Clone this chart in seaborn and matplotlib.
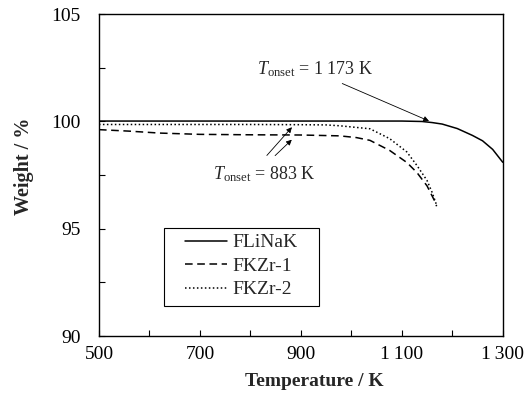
import matplotlib
matplotlib.use("Agg")
import matplotlib.pyplot as plt
import seaborn as sns
import pandas as pd
from matplotlib.patches import Rectangle
from matplotlib.ticker import MultipleLocator, FixedLocator, FixedFormatter

# ---- data ----
temp_flinak = [500, 600, 700, 800, 900, 1000, 1100, 1140, 1160, 1180, 1210, 1240, 1260, 1280, 1300]
w_flinak = [100.02, 100.02, 100.02, 100.02, 100.02, 100.02, 100.02, 100.0, 99.95, 99.88, 99.67, 99.35, 99.1, 98.7, 98.1]

temp_fkzr1 = [500, 560, 620, 700, 800, 900, 977, 1010, 1037, 1076, 1110, 1130, 1150, 1165, 1169]
w_fkzr1 = [99.62, 99.55, 99.46, 99.4, 99.38, 99.37, 99.33, 99.25, 99.12, 98.65, 98.09, 97.62, 97.0, 96.3, 96.05]

temp_fkzr2 = [500, 600, 700, 800, 900, 950, 977, 1037, 1076, 1110, 1130, 1150, 1160, 1169]
w_fkzr2 = [99.86, 99.86, 99.86, 99.86, 99.85, 99.84, 99.8, 99.66, 99.2, 98.58, 97.95, 97.25, 96.7, 96.1]

series_names = ["FLiNaK", "FKZr-1", "FKZr-2"]
x_ticks = [500, 700, 900, 1100, 1300]
x_tick_labels = ["500", "700", "900", "1\u2009100", "1\u2009300"]
y_ticks = [90, 95, 100, 105]

df = pd.concat([
    pd.DataFrame({"T": temp_flinak, "W": w_flinak, "s": series_names[0]}),
    pd.DataFrame({"T": temp_fkzr1, "W": w_fkzr1, "s": series_names[1]}),
    pd.DataFrame({"T": temp_fkzr2, "W": w_fkzr2, "s": series_names[2]}),
])

sns.set_style("ticks")
plt.rcParams["font.family"] = ["Liberation Serif", "DejaVu Serif"]
plt.rcParams["mathtext.fontset"] = "custom"
plt.rcParams["mathtext.rm"] = "Liberation Serif"
plt.rcParams["mathtext.it"] = "Liberation Serif:italic"

fig = plt.figure(figsize=(5.32, 3.94), dpi=100)
ax = fig.add_axes([0.186, 0.147, 0.759, 0.817])

styles = {"FLiNaK": "-", "FKZr-1": (0, (5, 3)), "FKZr-2": (0, (1, 1.6))}
for name in series_names:
    sns.lineplot(data=df[df["s"] == name], x="T", y="W", ax=ax, color="black",
                 linestyle=styles[name], linewidth=1.1, label=name, sort=False,
                 estimator=None)

ax.set_xlim(500, 1300)
ax.set_ylim(90, 105)
ax.xaxis.set_major_locator(FixedLocator(x_ticks))
ax.xaxis.set_major_formatter(FixedFormatter(x_tick_labels))
ax.xaxis.set_minor_locator(MultipleLocator(100))
ax.yaxis.set_major_locator(FixedLocator(y_ticks))
ax.yaxis.set_minor_locator(MultipleLocator(2.5))
ax.tick_params(which="both", direction="in", labelsize=14, colors="black", top=False, right=False)
ax.tick_params(which="both", length=4, width=0.8)
ax.tick_params(axis="x", which="major", pad=7)
ax.tick_params(axis="y", which="major", pad=13)
for sp in ax.spines.values():
    sp.set_color("black")
    sp.set_linewidth(1.0)

ax.set_xlabel("Temperature / K", fontsize=14, fontweight="bold")
ax.set_ylabel("Weight / %", fontsize=14.5, fontweight="bold")
ax.xaxis.set_label_coords((314 - 99) / 404, -(373 - 336) / 322)
ax.yaxis.set_label_coords(-(99 - 34) / 404, (336 - 166) / 322)

# annotations
ax.annotate("", xy=(1159, 99.97), xytext=(977, 101.82),
            arrowprops=dict(arrowstyle="-|>", color="black", lw=0.6, mutation_scale=8))
ax.text(928, 102.45, r"$T_{\mathrm{onset}}$ = 1 173 K", fontsize=13, ha="center", va="center")

ax.annotate("", xy=(886, 99.83), xytext=(829, 98.32),
            arrowprops=dict(arrowstyle="-|>", color="black", lw=0.6, mutation_scale=8))
ax.annotate("", xy=(886, 99.24), xytext=(845, 98.32),
            arrowprops=dict(arrowstyle="-|>", color="black", lw=0.6, mutation_scale=8))
ax.text(827, 97.55, r"$T_{\mathrm{onset}}$ = 883 K", fontsize=13, ha="center", va="center")

# legend: frame drawn as a box, entries placed inside it
ax.add_patch(Rectangle(((164 - 99) / 404, (336 - 306) / 322), 155 / 404, 78 / 322,
                       transform=ax.transAxes, fill=False, edgecolor="black",
                       linewidth=0.8, zorder=5))
leg = ax.legend(loc="center left", bbox_to_anchor=((185 - 99) / 404, (336 - 266) / 322),
                fontsize=14, frameon=False, handlelength=2.16,
                borderpad=0, labelspacing=0.3, handletextpad=0.3, borderaxespad=0)

fig.savefig("out.png", dpi=100, facecolor="white")
